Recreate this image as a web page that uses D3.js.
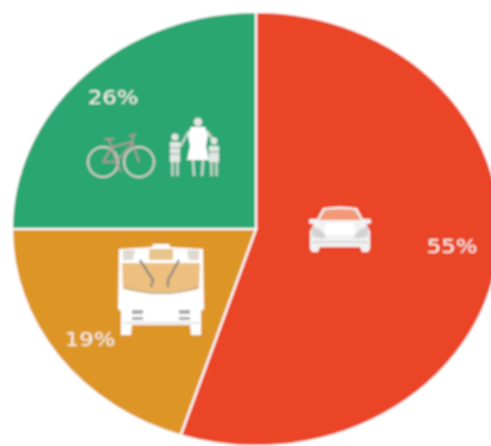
<!DOCTYPE html>
<html><head><meta charset="utf-8">
<script src="https://cdn.jsdelivr.net/npm/d3@7"></script>
<style>html,body{margin:0;background:#fff}svg{display:block}</style></head>
<body><svg id="c" width="491" height="446"></svg>
<script>
const categories=["Car","Bus","Bike and walk"];
const sliceShares=[55,20,25];
const shareLabels=["55%","19%","26%"];
const sliceColors=["#ea4425","#dd9628","#2ca672"];
const labelCentres=[[452,246],[90,339],[113,97]];

const W=491,H=446,cx=256,cy=229,rx=244,ry=217;
const svg=d3.select("#c");
const defs=svg.append("defs");
defs.append("filter").attr("id","soft").attr("x","-5%").attr("y","-5%").attr("width","110%").attr("height","110%")
  .append("feGaussianBlur").attr("stdDeviation",0.85);
const root=svg.append("g").attr("filter","url(#soft)");

const pie=d3.pie().sort(null).value(d=>d)(sliceShares);
const arc=d3.arc().innerRadius(0).outerRadius(rx);
root.append("g").attr("transform",`translate(${cx},${cy}) scale(1,${ry/rx})`)
  .selectAll("path").data(pie).join("path")
  .attr("d",arc).attr("fill",(d,i)=>sliceColors[i])
  .attr("stroke","#fff").attr("stroke-width",2.2);

function icon(x,y,draw){const g=root.append("g").attr("transform",`translate(${x},${y})`);draw(g);}
const W1="#fff";

// Car
icon(308,205,g=>{
  g.append("path").attr("d","M9 14 L15 3 Q32 0 49 3 L55 14 L62 14 Q65 17 61 19 L58 19 L62 26 L62 44 L60 47 L54 47 L52 42 L12 42 L10 47 L4 47 L2 44 L2 26 L6 19 L3 19 Q-1 17 2 14Z").attr("fill","#f2f2f2");
  g.append("path").attr("d","M11 15 L17 5 Q32 3 47 5 L53 15Z").attr("fill","#f29a74");
  g.append("path").attr("d","M18 18 H46 L48 30 H16Z").attr("fill","#fff");
  g.append("path").attr("d","M4 22 Q15 23 18 33 Q10 34 4 31Z M60 22 Q49 23 46 33 Q54 34 60 31Z").attr("fill","#d2d2d2");
  g.append("path").attr("d","M4 37 H60").attr("stroke","#bdbdbd").attr("stroke-width",1);
});

// Bus
icon(116,243,g=>{
  g.append("path").attr("d","M3 6 L36 4 L37 1 H53 L54 4 L87 6 L88 66 L85 68 L85 92 H75 L74 82 H16 L15 92 H5 L5 68 L2 66Z").attr("fill",W1);
  g.append("path").attr("d","M6 20 H84 L83 46 Q45 56 7 46Z").attr("fill","#eec07f");
  g.append("path").attr("d","M33 6 H57 V17 H33Z").attr("fill","#e8c48d");
  g.append("path").attr("d","M7 7 H19 L17 17 H7Z M83 7 H71 L73 17 H83Z").attr("fill","#dedad2");
  g.append("path").attr("d","M24 17 L37 37 L35 44 M63 17 L52 37 L52 44").attr("stroke","#8f8a80").attr("stroke-width",2.4).attr("fill","none");
  g.append("path").attr("d","M8 44 Q45 57 82 44").attr("stroke","#a9a294").attr("stroke-width",1.2).attr("fill","none");
  g.append("path").attr("d","M16 67 H27 V71 H16Z M63 67 H74 V71 H63Z M16 74 H27 V77 H16Z M63 74 H74 V77 H63Z").attr("fill","#a8a8a8");
  g.append("path").attr("d","M7 80 H83").attr("stroke","#c9c9c9").attr("stroke-width",1);
});

// Bicycle
icon(86,130,g=>{
  const s="#d9d3cf";
  g.append("circle").attr("cx",17).attr("cy",32).attr("r",15).attr("fill","none").attr("stroke",s).attr("stroke-width",2);
  g.append("circle").attr("cx",53).attr("cy",32).attr("r",15).attr("fill","none").attr("stroke",s).attr("stroke-width",2);
  g.append("path").attr("d","M17 32 L26 17 L46 12 L53 32 M26 17 L30 32 L46 14 M17 32 L30 32 M30 32 L35 42 M22 9 L26 17 M18 9 H28 M47 6 L46 14 M43 6 L50 4")
    .attr("fill","none").attr("stroke","#b89a9a").attr("stroke-width",1.6);
});

// Family
icon(168,116,g=>{
  const s="#e6e6e6";
  g.append("circle").attr("cx",30).attr("cy",6).attr("r",4.2).attr("fill",s);
  g.append("path").attr("d","M23 11 H37 L40 19 L38 30 L41 44 H19 L22 30 L20 19Z").attr("fill",W1);
  g.append("path").attr("d","M21 15 L12 31 M39 15 L47 27 M25 44 L26 60 M35 44 L34 60").attr("stroke","#cfd8d2").attr("stroke-width",2.4).attr("fill","none");
  g.append("circle").attr("cx",7).attr("cy",21).attr("r",3.6).attr("fill",s);
  g.append("path").attr("d","M2 26 H12 V46 H2Z").attr("fill","#e2e8e4");
  g.append("path").attr("d","M4.5 46 V60 M9.5 46 V60").attr("stroke","#cfd8d2").attr("stroke-width",2.4);
  g.append("path").attr("d","M2 32 H12 M2 38 H12").attr("stroke","#8ca595").attr("stroke-width",1.2);
  g.append("circle").attr("cx",46).attr("cy",25).attr("r",3.4).attr("fill",s);
  g.append("path").attr("d","M41 30 H51 V46 H41Z").attr("fill","#e2e8e4");
  g.append("path").attr("d","M43.5 46 V60 M48.5 46 V60").attr("stroke","#cfd8d2").attr("stroke-width",2.4);
  g.append("path").attr("d","M41 36 H51").attr("stroke","#8ca595").attr("stroke-width",1.2);
});

root.selectAll("text.pct").data(shareLabels).join("text")
  .attr("class","pct")
  .attr("transform",(d,i)=>`translate(${labelCentres[i][0]},${labelCentres[i][1]}) scale(1.14,1)`)
  .attr("text-anchor","middle").attr("dominant-baseline","central")
  .attr("font-family","'DejaVu Sans'").attr("font-size",20).attr("fill","#f7f3ee")
  .text(d=>d);
</script></body></html>
